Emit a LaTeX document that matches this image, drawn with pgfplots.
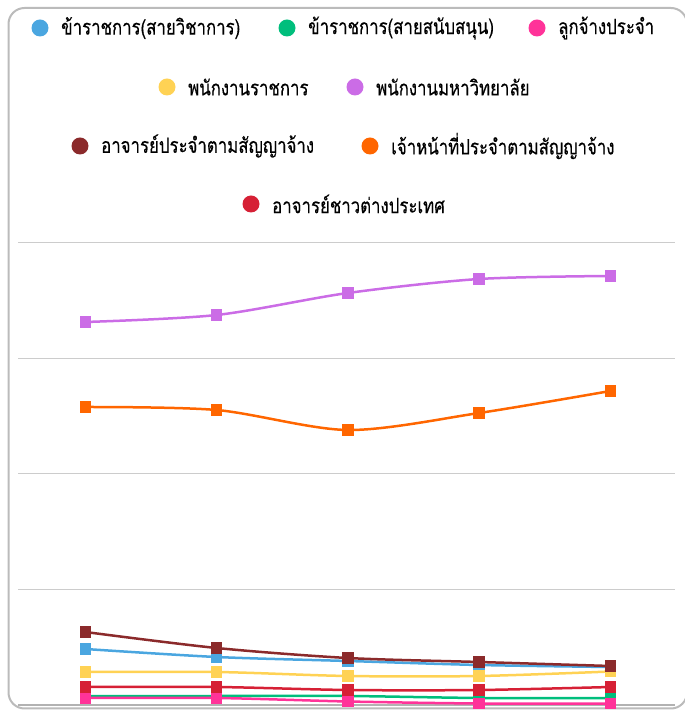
\documentclass[border=0pt]{standalone}
\usepackage{pgfplots}
\pgfplotsset{compat=1.18}
\usepackage{fontspec}
\newfontfamily\thai[Script=Thai, FakeStretch=0.8, FakeBold=0.4]{Loma}
\definecolor{cblue}{HTML}{4AA6E0}
\definecolor{cgreen}{HTML}{00BE7C}
\definecolor{cpink}{HTML}{FF3399}
\definecolor{cyellow}{HTML}{FFD254}
\definecolor{cpurple}{HTML}{CB6CE6}
\definecolor{cbrown}{HTML}{8B2A2B}
\definecolor{corange}{HTML}{FF6600}
\definecolor{cred}{HTML}{D62035}
\definecolor{frame}{HTML}{BBBBBB}
\begin{document}
\begin{tikzpicture}[x=1pt,y=1pt]
\useasboundingbox (0,0) rectangle (685,710);
\begin{scope}
\clip (0,0) rectangle (685,710);
\draw[frame, line width=2pt, rounded corners=16pt] (8.5,1.5) rectangle (687,702);
\end{scope}
% legend
\newcommand\legitem[4]{%
  \fill[#1] (#2,710-#3) circle (8.5pt);
  \node[anchor=west, inner sep=0pt, font=\thai\fontsize{21}{24}\selectfont] at (#2+21,710-#3) {#4};}
\legitem{cblue}{40}{28}{ข้าราชการ(สายวิชาการ)}
\legitem{cgreen}{287}{28}{ข้าราชการ(สายสนับสนุน)}
\legitem{cpink}{537}{28}{ลูกจ้างประจำ}
\legitem{cyellow}{167}{87}{พนักงานราชการ}
\legitem{cpurple}{355}{87}{พนักงานมหาวิทยาลัย}
\legitem{cbrown}{80}{146}{อาจารย์ประจำตามสัญญาจ้าง}
\legitem{corange}{370}{146}{เจ้าหน้าที่ประจำตามสัญญาจ้าง}
\legitem{cred}{251}{204}{อาจารย์ชาวต่างประเทศ}
\begin{axis}[
  at={(14,5)}, anchor=south west,
  scale only axis, width=657pt, height=462pt,
  xmin=-0.51, xmax=4.495, ymin=0, ymax=462,
  axis line style={draw=none}, clip=false,
  ytick={115.5,231,346.5,462}, ymajorgrids,
  major tick length=0pt,
  grid style={draw=black!20, line width=1pt},
  extra y ticks={0}, extra y tick style={grid style={draw=black!30, line width=2.5pt}},
  xtick=\empty, yticklabel=\empty,
  every axis plot/.append style={smooth, tension=0.5, line width=2.5pt, mark=square*, mark size=4.5pt},
]
\addplot[cblue, mark options={fill=cblue}] coordinates {(0,56) (1,48) (2,44) (3,40) (4,38)};
\addplot[cgreen, mark options={fill=cgreen}] coordinates {(0,9) (1,9) (2,9) (3,7) (4,7)};
\addplot[cpink, mark options={fill=cpink}] coordinates {(0,7) (1,7) (2,3.5) (3,1.5) (4,1.5)};
\addplot[cyellow, mark options={fill=cyellow}] coordinates {(0,33) (1,33) (2,29) (3,29) (4,33.5)};
\addplot[cpurple, mark options={fill=cpurple}] coordinates {(0,383) (1,390) (2,412) (3,426) (4,429)};
\addplot[cbrown, mark options={fill=cbrown}] coordinates {(0,73) (1,57) (2,47) (3,43) (4,39)};
\addplot[corange, mark options={fill=corange}] coordinates {(0,298) (1,295) (2,275) (3,292) (4,314)};
\addplot[cred, mark options={fill=cred}] coordinates {(0,18) (1,18) (2,15) (3,15) (4,18)};
\end{axis}
\end{tikzpicture}
\end{document}
